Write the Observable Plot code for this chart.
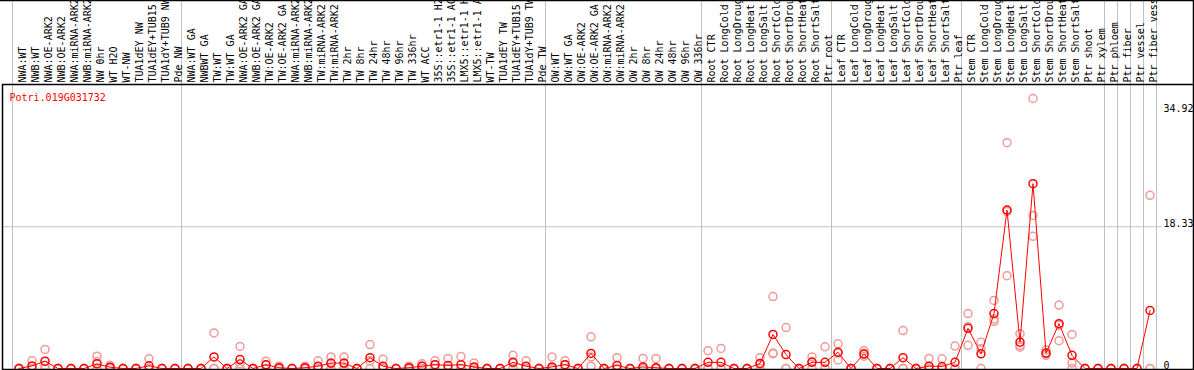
<!DOCTYPE html>
<html>
<head>
<meta charset="utf-8">
<script src="https://cdn.jsdelivr.net/npm/d3@7"></script>
<script src="https://cdn.jsdelivr.net/npm/@observablehq/plot@0.6"></script>
<style>
  html, body { margin: 0; padding: 0; background: white; }
  #chart { width: 1194px; height: 370px; }
</style>
</head>
<body>
<div id="chart"></div>
<script>
const geneTitle = "Potri.019G031732";

const labels = [
  "NWA:WT","NWB:WT","NWA:OE-ARK2","NWB:OE-ARK2","NWA:miRNA-ARK2","NWB:miRNA-ARK2","NW 0hr","WT H2O","WT-NW","TUA1dEY NW","TUA1dEY+TUB15 NW","TUA1dY+TUB9 NW","Pde NW",
  "NWA:WT GA","NWBWT GA","TW:WT","TW:WT GA","NWA:OE-ARK2 GA","NWB:OE-ARK2 GA","TW:OE-ARK2","TW:OE-ARK2 GA","NWA:miRNA-ARK2","NWB:miRNA-ARK2","TW:miRNA-ARK2","TW:miRNA-ARK2 GA","TW 2hr","TW 8hr","TW 24hr","TW 48hr","TW 96hr","TW 336hr","WT ACC","35S::etr1-1 H2O","35S::etr1-1 ACC","LMX5::etr1-1 H2O","LMX5::etr1-1 ACC","WT-TW","TUA1dEY TW","TUA1dEY+TUB15 TW","TUA1dY+TUB9 TW","Pde TW",
  "OW:WT","OW:WT GA","OW:OE-ARK2","OW:OE-ARK2 GA","OW:miRNA-ARK2","OW:miRNA-ARK2 GA","OW 2hr","OW 8hr","OW 24hr","OW 48hr","OW 96hr","OW 336hr",
  "Root CTR","Root LongCold","Root LongDrought","Root LongHeat","Root LongSalt","Root ShortCold","Root ShortDrought","Root ShortHeat","Root ShortSalt","Ptr root",
  "Leaf CTR","Leaf LongCold","Leaf LongDrought","Leaf LongHeat","Leaf LongSalt","Leaf ShortCold","Leaf ShortDrought","Leaf ShortHeat","Leaf ShortSalt","Ptr leaf",
  "Stem CTR","Stem LongCold","Stem LongDrought","Stem LongHeat","Stem LongSalt","Stem ShortCold","Stem ShortDrought","Stem ShortHeat","Stem ShortSalt",
  "Ptr shoot","Ptr xylem","Ptr phloem","Ptr fiber","Ptr vessel","Ptr fiber vessel"
];

// group separators (column boundary indices)
const separators = [0, 13, 41, 53, 63, 73, 84, 85, 86, 87, 88];

const means = [
  0, 0.33, 0.95, 0, 0, 0, 0.6, 0.17, 0, 0, 0.35, 0, 0,
  0, 0, 1.5, 0, 1.16, 0, 0.48, 0.1, 0, 0.1, 0.3, 0.7, 0.7, 0, 1.4, 0.3, 0, 0.1, 0.3, 0.5, 0.4, 0.5, 0.2, 0, 0, 0.8, 0.3, 0,
  0.2, 0.5, 0, 1.95, 0, 0.4, 0, 0.2, 0.1, 0, 0, 0,
  0.8, 0.8, 0, 0, 0.65, 4.4, 1.8, 0, 0.8, 0.8,
  2.1, 0, 1.9, 0, 0, 1.4, 0, 0.3, 0.26, 0.8,
  5.2, 1.9, 7.1, 20.5, 3.4, 23.9, 2.0, 5.8, 1.7,
  0, 0, 0, 0, 0, 7.5
];
const rep1 = [
  0, 1.0, 2.46, 0, 0, 0, 1.6, 0.4, 0, 0, 1.25, 0, 0,
  0, 0, 4.6, 0, 2.85, 0, 0.95, 0.3, 0, 0.3, 1.0, 1.5, 1.5, 0, 3.1, 1.2, 0, 0.3, 0.6, 1.0, 1.3, 1.55, 0.7, 0, 0, 1.7, 1.0, 0,
  1.5, 1.0, 0, 4.1, 0, 1.4, 0, 1.3, 1.3, 0, 0, 0,
  2.3, 2.6, 0, 0, 1.4, 9.3, 5.3, 0, 1.5, 2.8,
  3.2, 0, 2.3, 0, 0, 4.9, 0, 1.3, 1.25, 2.9,
  7.1, 3.4, 8.8, 29.2, 4.5, 34.92, 2.4, 8.2, 4.4,
  0, 0, 0, 0, 0, 22.4
];
const rep2 = [
  0, 0, 0.4, 0, 0, 0, 0.9, 0.1, 0, 0, 0, 0, 0,
  0, 0, 0, 0, 0.6, 0, 0.5, 0, 0, 0, 0, 0.6, 0.6, 0, 1.0, 0, 0, 0, 0.3, 0.5, 0, 0, 0, 0, 0, 0.7, 0, 0,
  0, 0.5, 0, 1.5, 0, 0, 0, 0, 0, 0, 0, 0,
  0, 0, 0, 0, 0.55, 2.0, 0, 0, 0.9, 0,
  2.0, 0, 1.8, 0, 0, 0, 0, 0, 0, 0,
  5.4, 2.55, 6.4, 12.0, 2.75, 19.8, 1.7, 3.6, 0.7,
  0, 0, 0, 0, 0, 0
];
const rep3 = [
  0, 0, 0, 0, 0, 0, 0, 0, 0, 0, 0, 0, 0,
  0, 0, 0, 0, 0, 0, 0, 0, 0, 0, 0, 0, 0, 0, 0, 0, 0, 0, 0, 0, 0, 0, 0, 0, 0, 0, 0, 0,
  0, 0, 0, 0.3, 0, 0, 0, 0, 0, 0, 0, 0,
  0, 0, 0, 0, 0, 1.9, 0, 0, 0, 0,
  1.1, 0, 1.6, 0, 0, 0, 0, 0, 0, 0,
  3.0, 0, 6.1, 20.3, 3.0, 17.1, 1.9, 5.6, 0,
  0, 0, 0, 0, 0, 0
];

const yTicks = [0, 18.33];
const yMaxTick = [34.92];

const table = labels.map((label, i) => ({label, i: i + 0.5, mean: means[i]}));
const reps = [];
labels.forEach((label, i) => {
  [rep1[i], rep2[i], rep3[i]].forEach(v => reps.push({i: i + 0.5, v}));
});

const font = "DejaVu Sans Mono";

const svg = Plot.plot({
  width: 1194,
  height: 370,
  marginLeft: 2,
  marginRight: 33,
  marginTop: 84,
  marginBottom: 1,
  style: {fontFamily: font, fontSize: "10px", background: "white"},
  x: {type: "linear", domain: [0, labels.length], range: [12, 1156], axis: null},
  y: {domain: [0, 34.92], range: [368, 98], axis: null},
  marks: [
    Plot.ruleY(yTicks.slice(1), {stroke: "#c0c0c0", strokeWidth: 1}),
    Plot.ruleX(separators, {x: d => d, stroke: "#c0c0c0", strokeWidth: 1, insetTop: -84}),
    Plot.text(labels, {
      x: (d, i) => i + 0.5, frameAnchor: "top", dy: -2, rotate: -90,
      textAnchor: "start", fill: "black", fontFamily: font, fontSize: 10
    }),
    Plot.text([geneTitle], {
      frameAnchor: "top-left", dx: 7, dy: 16, textAnchor: "start", lineAnchor: "bottom",
      fill: "#ff0000", fontFamily: font, fontSize: 10
    }),
    Plot.text(yTicks, {
      y: d => d, text: d => String(d), frameAnchor: "right", dx: 2, dy: 0,
      textAnchor: "start", lineAnchor: "bottom", fill: "black", fontFamily: font, fontSize: 10
    }),
    Plot.text(yMaxTick, {
      y: d => d, text: d => String(d), frameAnchor: "right", dx: 2, dy: 6,
      textAnchor: "start", lineAnchor: "top", fill: "black", fontFamily: font, fontSize: 10
    }),
    Plot.dot(reps, {x: "i", y: "v", r: 4, stroke: "#f09a9a", strokeWidth: 1.5, fill: "none"}),
    Plot.line(table, {x: "i", y: "mean", stroke: "#ff0000", strokeWidth: 1}),
    Plot.dot(table, {x: "i", y: "mean", r: 4, stroke: "#ff0000", strokeWidth: 1.5, fill: "none"})
  ]
});

// outer black frame (decoration)
const s = d3.select(svg);
const g = s.append("g").attr("stroke", "black").attr("stroke-width", 1.5).attr("fill", "none");
g.append("line").attr("x1", 0).attr("x2", 1194).attr("y1", 0.5).attr("y2", 0.5);
g.append("line").attr("x1", 2).attr("x2", 1194).attr("y1", 84.5).attr("y2", 84.5);
g.append("line").attr("x1", 2).attr("x2", 1194).attr("y1", 369.5).attr("y2", 369.5);
g.append("line").attr("x1", 1193.5).attr("x2", 1193.5).attr("y1", 0).attr("y2", 370);
g.append("line").attr("x1", 2.5).attr("x2", 2.5).attr("y1", 84).attr("y2", 370);

document.getElementById("chart").appendChild(svg);
</script>
</body>
</html>
